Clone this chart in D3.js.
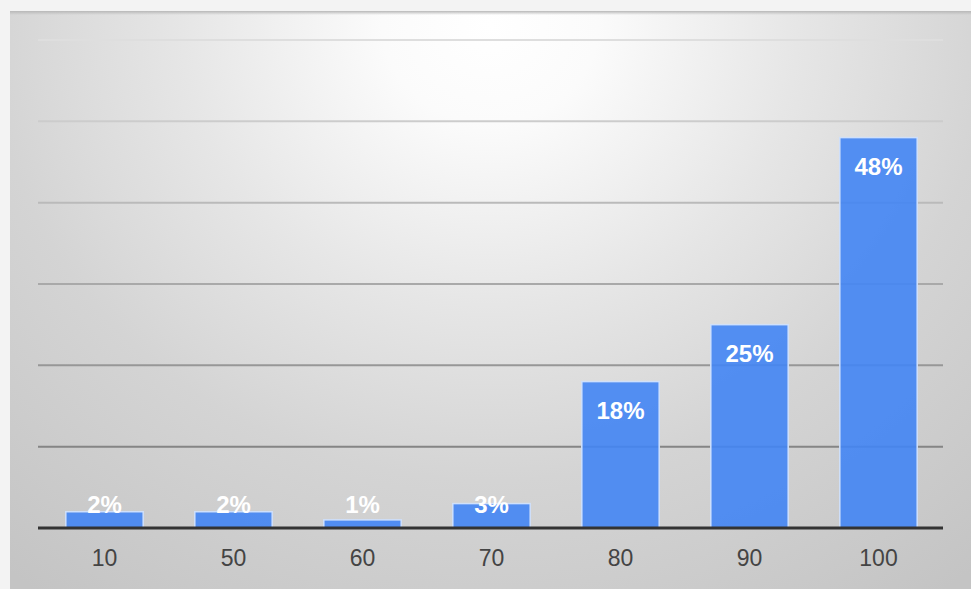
<!DOCTYPE html>
<html>
<head>
<meta charset="utf-8">
<script src="https://cdn.jsdelivr.net/npm/d3@7"></script>
<style>
  html, body { margin: 0; padding: 0; background: #f3f3f3; }
  svg { display: block; }
</style>
</head>
<body>
<svg id="chart" width="971" height="589"></svg>
<script>
// Score buckets and the share of results falling in each
const categories = ["10", "50", "60", "70", "80", "90", "100"];
const shares = [2, 2, 1, 3, 18, 25, 48];
const gridTicks = [0, 10, 20, 30, 40, 50, 60];

const W = 971, H = 589;
const plot = { left: 40, right: 943, top: 40, bottom: 528 };

const svg = d3.select("#chart");
const defs = svg.append("defs");

// soft spotlight background of the panel
const grad = defs.append("radialGradient")
  .attr("id", "panelBg")
  .attr("gradientUnits", "userSpaceOnUse")
  .attr("cx", 490).attr("cy", 25).attr("r", 700)
  .attr("gradientTransform", "translate(490,25) scale(1.1,1) translate(-490,-25)");
[[0, "#ffffff"], [0.14, "#fbfbfb"], [0.4, "#e6e6e6"], [0.65, "#d4d4d4"], [1, "#c4c4c4"]]
  .forEach(([o, c]) => grad.append("stop").attr("offset", o).attr("stop-color", c));

const shadow = defs.append("linearGradient")
  .attr("id", "topShade").attr("x1", 0).attr("x2", 0).attr("y1", 0).attr("y2", 1);
shadow.append("stop").attr("offset", 0).attr("stop-color", "#b8b8b8");
shadow.append("stop").attr("offset", 1).attr("stop-color", "#b8b8b8").attr("stop-opacity", 0);

svg.append("rect").attr("x", 0).attr("y", 0).attr("width", W).attr("height", H).attr("fill", "#f3f3f3");
svg.append("rect").attr("x", 10).attr("y", 11).attr("width", W - 10).attr("height", H - 11)
  .attr("fill", "url(#panelBg)");
svg.append("rect").attr("x", 10).attr("y", 11).attr("width", W - 10).attr("height", 4)
  .attr("fill", "url(#topShade)");

const x = d3.scaleBand()
  .domain(categories)
  .range([plot.left, plot.right])
  .paddingInner(0.4)
  .paddingOuter(0.2);

const y = d3.scaleLinear()
  .domain([0, 60])
  .range([plot.bottom, plot.top]);

// gridlines fade out toward the bright top of the panel
const gridColor = d3.scaleLinear().domain([10, 60]).range(["#858585", "#dedede"]).interpolate(d3.interpolateRgb);

svg.append("g").selectAll("line")
  .data(gridTicks.filter(t => t > 0))
  .join("line")
  .attr("x1", plot.left - 2).attr("x2", plot.right)
  .attr("y1", d => y(d)).attr("y2", d => y(d))
  .attr("stroke", d => gridColor(d))
  .attr("stroke-width", 2);

// bars
svg.append("g").selectAll("rect")
  .data(categories.map((c, i) => ({ c, v: shares[i] })))
  .join("rect")
  .attr("x", d => x(d.c))
  .attr("y", d => y(d.v))
  .attr("width", x.bandwidth())
  .attr("height", d => y(0) - y(d.v))
  .attr("fill", "#4285f4")
  .attr("fill-opacity", 0.9)
  .attr("stroke", "#cfe0fb")
  .attr("stroke-width", 1.5);

// baseline
svg.append("line")
  .attr("x1", plot.left - 2).attr("x2", plot.right)
  .attr("y1", y(0)).attr("y2", y(0))
  .attr("stroke", "#333333")
  .attr("stroke-width", 3);

// value labels inside the top of each bar
svg.append("g").selectAll("text")
  .data(categories.map((c, i) => ({ c, v: shares[i] })))
  .join("text")
  .attr("x", d => x(d.c) + x.bandwidth() / 2)
  .attr("y", d => Math.min(y(d.v) + 37, y(0) - 15))
  .attr("text-anchor", "middle")
  .attr("font-family", "'Liberation Sans', Arial, sans-serif")
  .attr("font-weight", "bold")
  .attr("font-size", 24)
  .attr("fill", "#ffffff")
  .text(d => d.v + "%");

// category axis
const xAxis = svg.append("g")
  .attr("transform", `translate(0,${plot.bottom})`)
  .call(d3.axisBottom(x).tickSize(0).tickPadding(0));
xAxis.select(".domain").remove();
xAxis.selectAll("text")
  .attr("y", 38)
  .attr("dy", 0)
  .attr("font-family", "'Liberation Sans', Arial, sans-serif")
  .attr("font-size", 23)
  .attr("fill", "#444444");
</script>
</body>
</html>
